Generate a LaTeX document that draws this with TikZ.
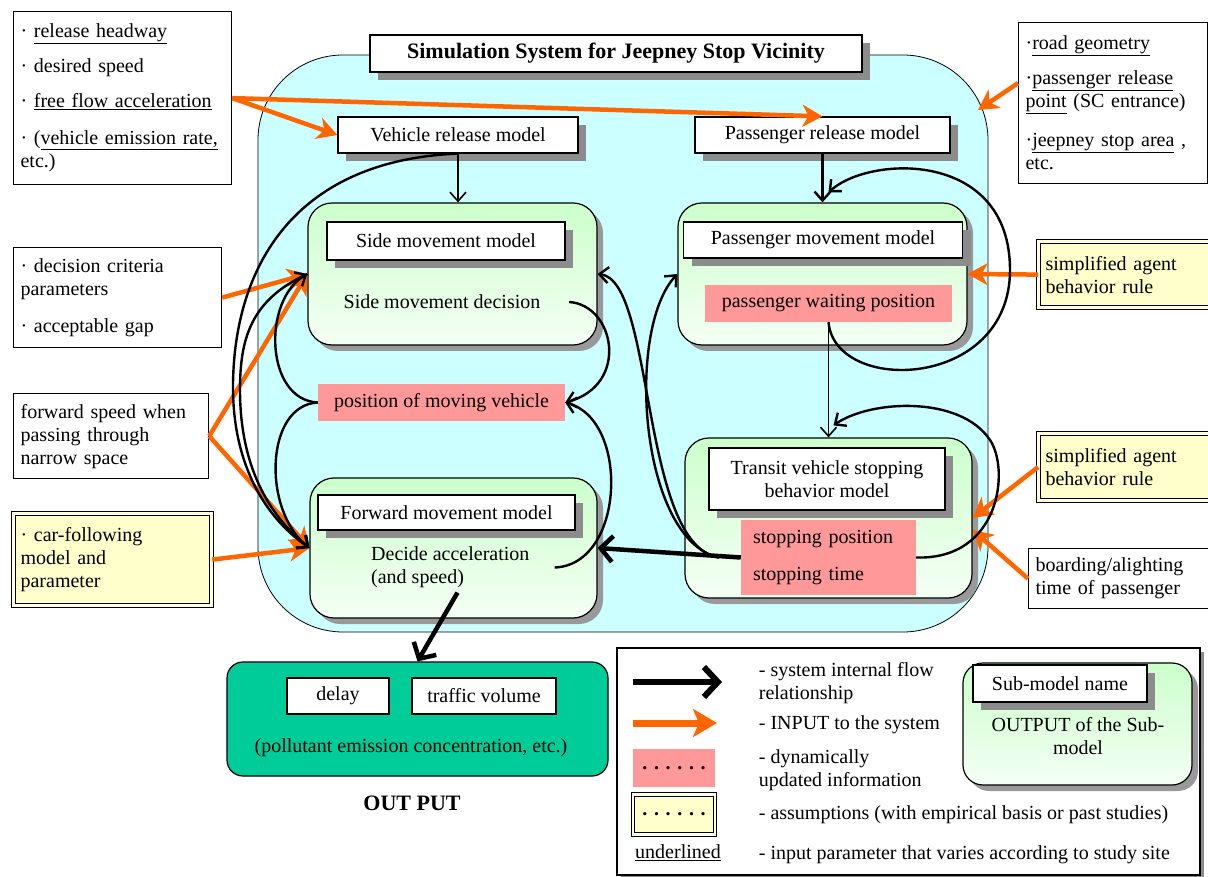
\documentclass[tikz,border=0pt]{standalone}
\usepackage{fontspec}
\setmainfont{Liberation Serif}
\usetikzlibrary{positioning,shadows,arrows.meta}
\definecolor{sky}{RGB}{204,255,255}
\definecolor{leaf}{RGB}{204,255,204}
\definecolor{rose}{RGB}{255,153,153}
\definecolor{cream}{RGB}{255,255,204}
\definecolor{jade}{RGB}{0,204,153}
\definecolor{flame}{RGB}{255,102,0}
\tikzset{>={Straight Barb[length=9pt,width=16pt]}}

\begin{document}
\begin{tikzpicture}[x=1pt,y=-1pt]
        \fontsize{20}{23}\selectfont
        \tikzset{
        namebox/.style={draw, fill=white, line width=1.2pt, inner sep=0pt,
          drop shadow={shadow xshift=8pt, shadow yshift=-8pt, fill=black!45, opacity=1}},
        submodel/.style={draw, line width=1.2pt, rounded corners=24pt, top color=leaf, bottom color=leaf!20,
          drop shadow={shadow xshift=6pt, shadow yshift=-6pt, fill=black!40, opacity=1}},
        dyninfo/.style={fill=rose, inner sep=0pt},
        given/.style={draw, line width=1.2pt, fill=white, anchor=north west, align=left, inner xsep=7pt, inner ysep=3pt},
        assumed/.style={given, fill=cream, double=cream!60!white, double distance=2.5pt},
        flow/.style={->, line width=2.4pt},
        thinflow/.style={->, line width=1.6pt},
        bigflow/.style={line width=4.5pt, -{Straight Barb[length=12pt,width=26pt]}},
        feed/.style={draw=flame, line width=4.5pt, -{Stealth[length=20pt,width=22pt,inset=6pt]}},
        heading/.style={font=\bfseries\fontsize{22}{26}\selectfont},
        }
        \useasboundingbox (0,0) rectangle (1208,877);

        % System frame.
        \path (623,343.5) node[draw, line width=0.8pt, fill=sky, rounded corners=85pt, minimum width=730pt, minimum height=577pt] (sys) {};
        \path (616,53.5)  node[namebox, minimum width=492pt, minimum height=37pt, heading] (title) {Simulation System for Jeepney Stop Vicinity};
        \path (458,135)   node[namebox, minimum width=240pt, minimum height=36pt] (vrel) {Vehicle release model};
        \path (822.5,135) node[namebox, minimum width=255pt, minimum height=36pt] (prel) {Passenger release model};

        % Sub-models.
        \path (452.5,274) node[submodel, minimum width=289pt, minimum height=142pt] (side) {};
        \path (446,241)   node[namebox, minimum width=238pt, minimum height=38pt] (sidename) {Side movement model};
        \path (442,302)   node (sidetxt) {Side movement decision};

        \path (822.5,274) node[submodel, minimum width=289pt, minimum height=142pt] (pax) {};
        \path (823,240)   node[namebox, minimum width=279pt, minimum height=36pt] (paxname) {Passenger movement model};
        \path (828.5,303.5) node[dyninfo, minimum width=247pt, minimum height=37pt] (paxinfo) {passenger waiting position};

        \path (441.5,402.5) node[dyninfo, minimum width=247pt, minimum height=37pt] (pos) {position of moving vehicle};

        \path (453.5,548) node[submodel, minimum width=287pt, minimum height=140pt] (fwd) {};
        \path (446.5,512.5) node[namebox, minimum width=257pt, minimum height=35pt] (fwdname) {Forward movement model};
        \path (366,567.5) node[anchor=west, align=left, inner sep=5pt] (fwdtxt) {Decide acceleration\\(and speed)};

        \path (828.5,518) node[submodel, minimum width=287pt, minimum height=160pt] (tr) {};
        \path (827,479)   node[namebox, minimum width=236pt, minimum height=62pt, align=center] (trname) {Transit vehicle stopping\\behavior model};
        \path (828.5,557.5) node[dyninfo, minimum width=175pt, minimum height=75pt, align=left, text width=151pt] (tinfo) {stopping position\\[14pt]stopping time};

        % Inputs (left).
        \path (13,11)  node[given, text width=204pt, minimum height=173pt] (vehin) {· \underline{release headway}\\[12pt]· desired speed\\[12pt]· \underline{free flow acceleration}\\[14pt]· (\underline{vehicle emission rate,}\\etc.)};
        \path (13,247) node[given, text width=194pt, minimum height=100pt] (gapin) {· decision criteria\\parameters\\[14pt]· acceptable gap};
        \path (13,393) node[given, text width=181pt, minimum height=85pt] (narrowin) {forward speed when\\passing through\\narrow space};
        \path (13,513) node[assumed, text width=184pt, minimum height=92pt] (carin) {· car-following\\model and\\parameter};

        % Inputs (right).
        \path (1018,22)  node[given, text width=175pt, minimum height=161pt] (sitein) {·\underline{road geometry}\\[12pt]·\underline{passenger release}\\\underline{point} (SC entrance)\\[16pt]·\underline{jeepney stop area}~,\\etc.};
        \path (1038,241) node[assumed, text width=170pt, minimum height=66pt] (paxrule) {simplified agent\\behavior rule};
        \path (1038,433) node[assumed, text width=170pt, minimum height=67pt] (stoprule) {simplified agent\\behavior rule};
        \path (1028,548) node[given, text width=180pt, minimum height=60pt] (dwellin) {boarding/alighting\\time of passenger};

        % Output.
        \path (417.5,719) node[draw, line width=1.2pt, fill=jade, rounded corners=16pt, minimum width=381pt, minimum height=114pt] (out) {};
        \path (338,696) node[draw, fill=white, line width=1.2pt, minimum width=102pt, minimum height=36pt] (delay) {delay};
        \path (484,696) node[draw, fill=white, line width=1.2pt, minimum width=144pt, minimum height=36pt] (volume) {traffic volume};
        \path (411,748) node (emis) {(pollutant emission concentration, etc.)};
        \path (412,803) node[heading] (outlabel) {OUT PUT};

        % Inputs to the system.
        \coordinate (sysrim) at (978,110);
        \draw[feed] (vehin.east) -- (vrel.west);
        \draw[feed] (vehin.east) -- (prel.north);
        \draw[feed] ([yshift=20pt]sitein.west) -- (sysrim);
        \draw[feed] (gapin.east) -- (side.west);
        \draw[feed] (narrowin.east) -- (side.west);
        \draw[feed] (narrowin.east) -- (fwd.west);
        \draw[feed] (carin.east) -- (fwd.west);
        \draw[feed] (paxrule.west) -- (pax.east);
        \draw[feed] (stoprule.west) -- (tr.east);
        \draw[feed] (dwellin.west) -- ([yshift=-12pt]tr.east);

        % Internal flow.
        \draw[thinflow] (vrel.south) -- (vrel.south |- side.north);
        \draw[flow] (prel.south) -- (prel.south |- pax.north);
        \draw[thinflow] (paxinfo.south) -- (paxinfo.south |- tr.north);
        \draw[flow] (paxinfo.south) .. controls (835,395) and (1010,390) .. (1010,270)
                                    .. controls (1010,150) and (870,155) .. ([xshift=6pt,yshift=10pt]pax.north);
        \draw[flow] (tinfo.east) .. controls (1000,560) and (1010,470) .. (990,440)
                                 .. controls (960,395) and (870,400) .. ([xshift=5pt,yshift=12pt]tr.north);
        \draw[bigflow] (tinfo.west) -- (fwd.east);
        \coordinate (split) at ([xshift=-22pt]tinfo.west);
        \draw[flow] (split) .. controls (640,545) and (655,280) .. (side.east);
        \draw[flow] (split) .. controls (640,540) and (625,330) .. (pax.west);
        \draw[flow] ([xshift=22pt]sidetxt.east) .. controls (615,305) and (630,385) .. (pos.east);
        \draw[flow] ([xshift=20pt]fwdtxt.east) .. controls (625,565) and (630,420) .. (pos.east);
        \draw[flow] (pos.west) .. controls (265,400) and (262,300) .. (side.west);
        \draw[flow] (pos.west) .. controls (265,405) and (262,510) .. (fwd.west);
        \draw[flow] (vrel.south) .. controls (300,160) and (235,260) .. (233,383)
                                 .. controls (232,460) and (262,515) .. (fwd.west);
        \draw[flow] (side.west) .. controls (250,300) and (240,340) .. (240,390)
                                .. controls (240,465) and (268,515) .. (fwd.west);
        \draw[bigflow] ([xshift=4pt,yshift=26pt]fwd.south) -- (out.north);

        % Legend.
        \path (908.5,761.5) node[draw, fill=white, line width=1.2pt, minimum width=583pt, minimum height=227pt,
          drop shadow={shadow xshift=4pt, shadow yshift=-4pt, fill=black!45, opacity=1}] (key) {};
        \coordinate (kblackA) at (633,682);
        \coordinate (kblackB) at (722,682);
        \draw[line width=6pt, -{Straight Barb[length=14pt,width=30pt]}] (kblackA) -- (kblackB);
        \coordinate (korangeA) at (633,723);
        \coordinate (korangeB) at (717,723);
        \draw[draw=flame, line width=7pt, -{Stealth[length=24pt,width=28pt,inset=6pt]}] (korangeA) -- (korangeB);
        \path (674,768)   node[dyninfo, minimum width=82pt, minimum height=38pt, font=\bfseries] (kpink) {. . . . . .};
        \path (674,814.5) node[assumed, anchor=center, minimum width=82pt, minimum height=40pt, font=\bfseries] (kcream) {. . . . . .};
        \path (678,853)   node (kunder) {\underline{underlined}};
        \path (752,683.5) node[anchor=west, align=left] (kflowtxt) {- system internal flow\\relationship};
        \path (752,725)   node[anchor=west] (kfeedtxt) {- INPUT to the system};
        \path (752,770)   node[anchor=west, align=left] (kdyntxt) {- dynamically\\updated information};
        \path (752,815)   node[anchor=west] (kasstxt) {- assumptions (with empirical basis or past studies)};
        \path (752,855)   node[anchor=west] (kundtxt) {- input parameter that varies according to study site};
        \path (1077.5,724) node[submodel, rounded corners=20pt, minimum width=229pt, minimum height=122pt] (ksub) {};
        \path (1060,683.5) node[namebox, minimum width=174pt, minimum height=37pt] (ksubname) {Sub-model name};
        \path (1078,736)  node[align=center] (ksubtxt) {OUTPUT of the Sub-\\model};
\end{tikzpicture}
\end{document}
